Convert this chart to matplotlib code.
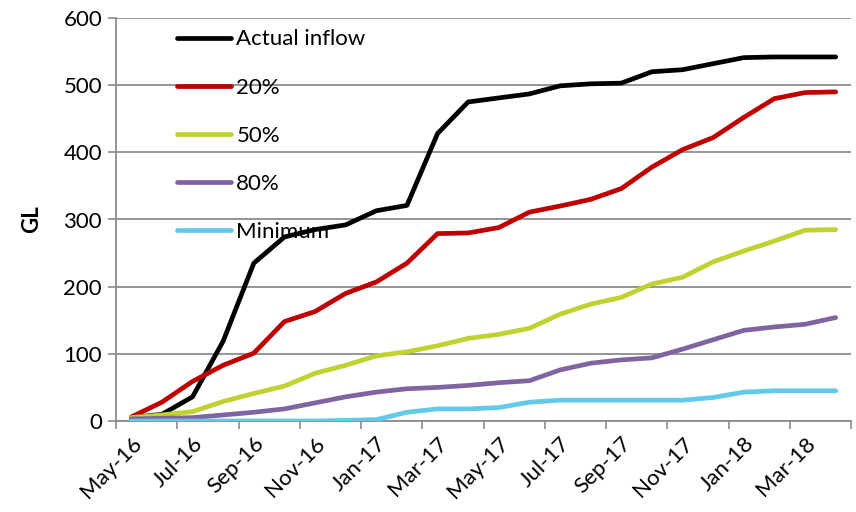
import matplotlib
matplotlib.use("Agg")
import matplotlib.pyplot as plt
import numpy as np

plt.rcParams['font.family'] = ['Lato', 'DejaVu Sans']

months = ["May-16", "Jun-16", "Jul-16", "Aug-16", "Sep-16", "Oct-16", "Nov-16", "Dec-16",
          "Jan-17", "Feb-17", "Mar-17", "Apr-17", "May-17", "Jun-17", "Jul-17", "Aug-17",
          "Sep-17", "Oct-17", "Nov-17", "Dec-17", "Jan-18", "Feb-18", "Mar-18", "Apr-18"]

actual = [5, 10, 36, 119, 235, 274, 285, 292, 313, 321, 428, 475,
          481, 487, 499, 502, 503, 520, 523, 532, 541, 542, 542, 542]
p20 = [6, 28, 59, 83, 101, 148, 163, 190, 207, 235, 279, 280,
       288, 311, 320, 330, 346, 378, 404, 422, 452, 480, 489, 490]
p50 = [5, 9, 14, 29, 41, 52, 71, 83, 97, 103, 112, 123,
       129, 138, 159, 174, 184, 204, 214, 237, 253, 268, 284, 285]
p80 = [3, 4, 5, 9, 13, 18, 27, 36, 43, 48, 50, 53,
       57, 60, 76, 86, 91, 94, 107, 121, 135, 140, 144, 154]
minimum = [0, 0, 0, 0, 0, 0, 0, 1, 2, 13, 18, 18,
           20, 28, 31, 31, 31, 31, 31, 35, 43, 45, 45, 45]

series = [("Actual inflow", actual, "#000000"),
          ("20%", p20, "#C00000"),
          ("50%", p50, "#BFD230"),
          ("80%", p80, "#8064A2"),
          ("Minimum", minimum, "#62C9E8")]

fig = plt.figure(figsize=(8.56, 5.12), dpi=100)
ax = fig.add_axes([116/856, 1-421/512, (851-116)/856, (421-18)/512])

x = np.arange(len(months))
for name, vals, col in series:
    ax.plot(x, vals, color=col, lw=3.4, label=name, zorder=3, solid_capstyle='round')

ax.set_xlim(-0.5, len(months) - 0.5)
ax.set_ylim(0, 600)
ax.set_yticks(np.arange(0, 601, 100))
ax.yaxis.grid(True, color="#8C8C8C", lw=1.3)
ax.set_axisbelow(True)

ax.set_xticks(x[::2])
ax.set_xticklabels(months[::2], rotation=45, ha='right', rotation_mode='anchor', fontsize=16)
ax.set_xticks(np.arange(-0.5, len(months), 2), minor=True)
ax.tick_params(axis='x', which='major', length=0, pad=9)
ax.tick_params(axis='x', which='minor', length=6, width=1.2, color="#8C8C8C", direction='out')
ax.tick_params(axis='y', length=6, width=1.2, color="#8C8C8C", labelsize=16, pad=4)

for s in ['top', 'right']:
    ax.spines[s].set_visible(False)
for s in ['left', 'bottom']:
    ax.spines[s].set_color("#8C8C8C")
    ax.spines[s].set_linewidth(1.3)

ax.set_ylabel("GL", fontsize=16, fontweight='bold', labelpad=15)

leg = ax.legend(loc='upper left', bbox_to_anchor=(0.0655, 1.005), frameon=False, fontsize=16,
                handlelength=2.4, handletextpad=0.25, labelspacing=1.27, borderaxespad=0.2)
leg.set_zorder(2)

fig.savefig("out.png", dpi=100)
